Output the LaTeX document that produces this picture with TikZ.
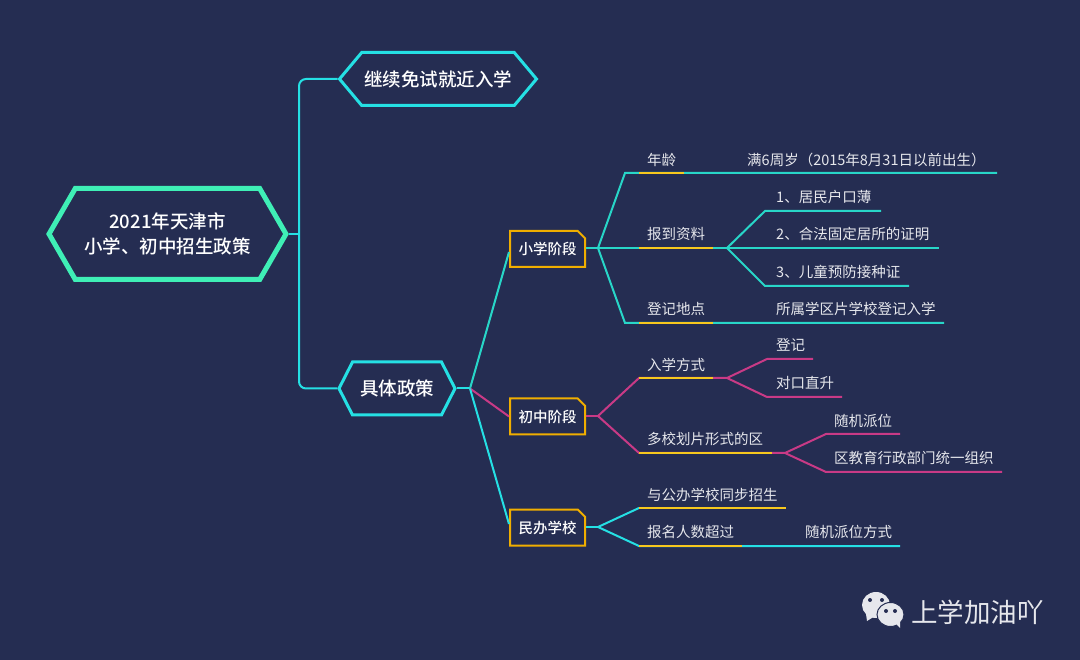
\documentclass[tikz,border=0pt]{standalone}
\usepackage{fontspec}
\setmainfont{Noto Sans CJK SC}[BoldFont={Noto Sans CJK SC Medium}]
\usetikzlibrary{shapes.symbols,shapes.misc}
\definecolor{fondo}{HTML}{252D52}
\definecolor{verde}{HTML}{3FEFB6}
\definecolor{cian}{HTML}{25E0E4}
\definecolor{turquesa}{HTML}{28D6C8}
\definecolor{amarillo}{HTML}{F7C81E}
\definecolor{naranja}{HTML}{F0AE00}
\definecolor{rosa}{HTML}{C93A86}
\definecolor{claro}{HTML}{E6E7EC}
\tikzset{
  hexa/.style={signal, signal to=west and east, draw, text=white, inner sep=0pt},
  caja/.style={chamfered rectangle, chamfered rectangle corners=north east,
    chamfered rectangle xsep=3.6pt, chamfered rectangle ysep=3.6pt, draw=naranja, line width=2pt,
    minimum width=75pt, minimum height=36pt, inner sep=0pt, text=white, font=\fontsize{14.5}{17}\selectfont\bfseries},
  hoja/.style={anchor=west, inner sep=0pt, text=claro, font=\fontsize{14.5}{17}\selectfont},
  linea/.style={line width=2pt}
}
\begin{document}
\begin{tikzpicture}[x=1pt,y=-1pt]
  \fill[fondo] (0,0) rectangle (1080,660);
  \useasboundingbox (0,0) rectangle (1080,660);

  % Nodos principales
  \node[hexa, draw=verde, line width=5pt, minimum width=237pt, minimum height=91pt, signal pointer angle=120,
    align=center, font=\fontsize{18.5}{25}\selectfont\bfseries] (raiz) at (167.5,234) {2021年天津市\\小学、初中招生政策};
  \node[hexa, draw=cian, line width=3pt, minimum width=197pt, minimum height=53pt, signal pointer angle=100,
    font=\fontsize{18.5}{22}\selectfont\bfseries] (continuar) at (438,79) {继续免试就近入学};
  \node[hexa, draw=cian, line width=3pt, minimum width=116pt, minimum height=53pt, signal pointer angle=126,
    font=\fontsize{18.5}{22}\selectfont\bfseries] (politica) at (397,388.5) {具体政策};

  % Cajas de cada etapa
  \node[caja] (primaria) at (547.5,249) {小学阶段};
  \node[caja] (secundaria) at (547.5,416.5) {初中阶段};
  \node[caja] (privada) at (547.5,527.5) {民办学校};

  % Puntos de las ramas
  \coordinate (tronco) at (299,234);
  \coordinate (troncoA) at (299,79);
  \coordinate (troncoB) at (299,388.5);
  \coordinate (nudoP) at (470,388.5);
  \coordinate (nudoA) at (598,248);
  \coordinate (nudoB) at (598,416);
  \coordinate (nudoC) at (598,527);
  \coordinate (nudoD) at (727,248);
  \coordinate (nudoE) at (727,378);
  \coordinate (nudoF) at (785,453);

  % Tronco
  \draw[cian, linea] (raiz.east) -- (tronco);
  \draw[cian, linea, rounded corners=7pt] (continuar.west) -- (troncoA) -- (troncoB) -- (politica.west);

  % Desde las politicas a las cajas
  \draw[cian, linea] (politica.east) -- (nudoP);
  \draw[turquesa, linea] (nudoP) -- (primaria.west |- 0,252);
  \draw[rosa, linea] (nudoP) -- (secundaria.west);
  \draw[cian, linea] (nudoP) -- (privada.west |- 0,524);

  % Primaria
  \draw[turquesa, linea] (primaria.east |- nudoA) -- (nudoA);
  \draw[turquesa, linea] (nudoA) -- (625,173) -- (997,173);
  \draw[turquesa, linea] (nudoA) -- (nudoD) -- (939,248);
  \draw[turquesa, linea] (nudoD) -- (765,211) -- (881,211);
  \draw[turquesa, linea] (nudoD) -- (765,286) -- (909,286);
  \draw[turquesa, linea] (nudoA) -- (625,323) -- (944,323);
  \draw[amarillo, linea] (639,173) -- (684,173);
  \draw[amarillo, linea] (639,248) -- (713,248);
  \draw[amarillo, linea] (639,323) -- (713,323);

  % Secundaria
  \draw[rosa, linea] (secundaria.east |- nudoB) -- (nudoB);
  \draw[rosa, linea] (nudoB) -- (639,378) -- (nudoE);
  \draw[rosa, linea] (nudoE) -- (767,359) -- (813,359);
  \draw[rosa, linea] (nudoE) -- (767,397) -- (842,397);
  \draw[rosa, linea] (nudoB) -- (639,453) -- (nudoF);
  \draw[rosa, linea] (nudoF) -- (826,434) -- (900,434);
  \draw[rosa, linea] (nudoF) -- (826,472) -- (1002,472);
  \draw[amarillo, linea] (639,378) -- (713,378);
  \draw[amarillo, linea] (639,453) -- (772,453);

  % Privada
  \draw[cian, linea] (privada.east |- nudoC) -- (nudoC);
  \draw[cian, linea] (nudoC) -- (639,508);
  \draw[cian, linea] (nudoC) -- (639,546) -- (900,546);
  \draw[amarillo, linea] (639,508) -- (786,508);
  \draw[amarillo, linea] (639,546) -- (742,546);

  % Etiquetas
  \node[hoja] (edad) at (647,160) {年龄};
  \node[hoja] (edadB) at (747,160) {满6周岁（2015年8月31日以前出生）};
  \node[hoja] (papeles) at (647,234) {报到资料};
  \node[hoja] (papelA) at (776,197) {1、居民户口薄};
  \node[hoja] (papelB) at (776,234) {2、合法固定居所的证明};
  \node[hoja] (papelC) at (776,272) {3、儿童预防接种证};
  \node[hoja] (lugar) at (647,309) {登记地点};
  \node[hoja] (lugarB) at (776,309) {所属学区片学校登记入学};
  \node[hoja] (modo) at (647,365) {入学方式};
  \node[hoja] (modoA) at (776,345) {登记};
  \node[hoja] (modoB) at (776,383) {对口直升};
  \node[hoja] (zona) at (647,439) {多校划片形式的区};
  \node[hoja] (zonaA) at (834,421) {随机派位};
  \node[hoja] (zonaB) at (834,458) {区教育行政部门统一组织};
  \node[hoja] (sincro) at (647,495) {与公办学校同步招生};
  \node[hoja] (cupo) at (647,532) {报名人数超过};
  \node[hoja] (cupoB) at (805,532) {随机派位方式};

  % Logotipo
  \fill[claro] (876,605) ellipse (14pt and 13pt);
  \fill[claro] (866,614) -- (867,621) -- (875,616) -- cycle;
  \fill[claro, draw=fondo, line width=1pt] (890.5,614.5) ellipse (13.5pt and 12pt);
  \fill[claro] (894,622) -- (900,628) -- (900,618) -- cycle;
  \fill[fondo] (870,600) circle (2pt);
  \fill[fondo] (882,600) circle (2pt);
  \fill[fondo] (886,611) circle (2pt);
  \fill[fondo] (895,611) circle (2pt);
  \node[anchor=west, inner sep=0pt, text=claro, font=\fontsize{26.5}{30}\selectfont] (marca) at (911,612) {上学加油吖};
\end{tikzpicture}
\end{document}
